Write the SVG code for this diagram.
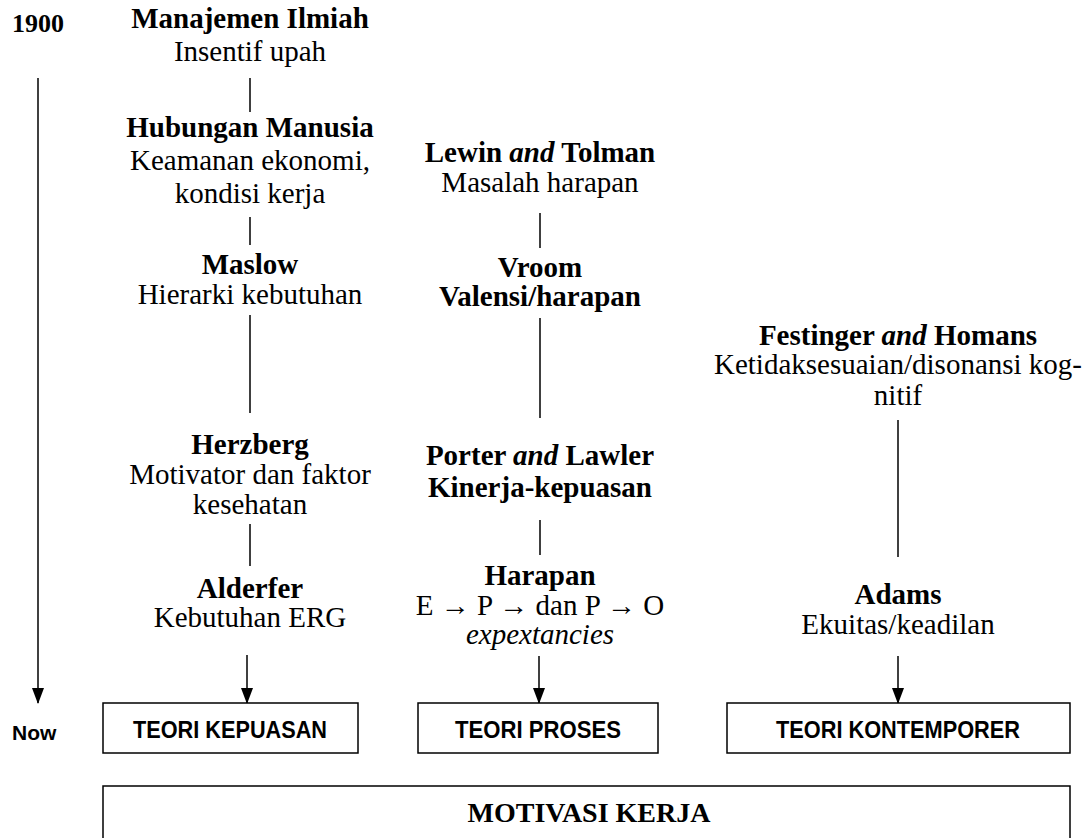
<svg xmlns="http://www.w3.org/2000/svg" width="1086" height="838" viewBox="0 0 1086 838">
  <style>
    text { font-family: "Liberation Serif", "Times New Roman", serif; font-size: 29px; fill: #000; text-anchor: middle; }
    .b { font-weight: bold; }
    .i { font-style: italic; }
    .sans { font-family: "Liberation Sans", Arial, sans-serif; font-weight: bold; font-size: 24px; }
    .yr { font-size: 26px; font-weight: bold; text-anchor: start; }
    .box { fill: #fff; stroke: #000; stroke-width: 1.5; }
    .ln { stroke: #000; stroke-width: 1.5; fill: none; }
  </style>
  <defs>
    <!-- filled arrowhead pointing along the line direction -->
    <marker id="arrow" markerWidth="16" markerHeight="12" refX="15" refY="6" orient="auto" markerUnits="userSpaceOnUse" viewBox="0 0 16 12">
      <path d="M0,0 L16,6 L0,12 Z" fill="#000"/>
    </marker>
  </defs>
  <rect width="1086" height="838" fill="#fff"/>

  <!-- time axis labels -->
  <g id="timeline">
    <text class="yr" x="12" y="32">1900</text>
    <text class="sans" x="12" y="740" style="text-anchor:start;font-size:21px">Now</text>
  </g>

  <!-- connectors -->
  <g id="connectors">
    <line class="ln" x1="38" y1="78" x2="38" y2="703" marker-end="url(#arrow)"/>
    <!-- column 1 -->
    <line class="ln" x1="250" y1="78" x2="250" y2="112"/>
    <line class="ln" x1="250" y1="217" x2="250" y2="245"/>
    <line class="ln" x1="250" y1="315" x2="250" y2="413"/>
    <line class="ln" x1="250" y1="524" x2="250" y2="566"/>
    <line class="ln" x1="247" y1="655" x2="247" y2="703" marker-end="url(#arrow)"/>
    <!-- column 2 -->
    <line class="ln" x1="540" y1="213" x2="540" y2="248"/>
    <line class="ln" x1="540" y1="318" x2="540" y2="418"/>
    <line class="ln" x1="540" y1="520" x2="540" y2="555"/>
    <line class="ln" x1="539" y1="656" x2="539" y2="703" marker-end="url(#arrow)"/>
    <!-- column 3 -->
    <line class="ln" x1="898" y1="420" x2="898" y2="557"/>
    <line class="ln" x1="898" y1="656" x2="898" y2="703" marker-end="url(#arrow)"/>
  </g>

  <!-- column 1: satisfaction theories -->
  <g id="manajemen-ilmiah">
    <text class="b" x="250" y="28">Manajemen Ilmiah</text>
    <text x="250" y="61">Insentif upah</text>
  </g>
  <g id="hubungan-manusia">
    <text class="b" x="250" y="137">Hubungan Manusia</text>
    <text x="250" y="170">Keamanan ekonomi,</text>
    <text x="250" y="203">kondisi kerja</text>
  </g>
  <g id="maslow">
    <text class="b" x="250" y="274">Maslow</text>
    <text x="250" y="304">Hierarki kebutuhan</text>
  </g>
  <g id="herzberg">
    <text class="b" x="250" y="454">Herzberg</text>
    <text x="250" y="484">Motivator dan faktor</text>
    <text x="250" y="514">kesehatan</text>
  </g>
  <g id="alderfer">
    <text class="b" x="250" y="598">Alderfer</text>
    <text x="250" y="627">Kebutuhan ERG</text>
  </g>

  <!-- column 2: process theories -->
  <g id="lewin-tolman">
    <text class="b" x="540" y="162">Lewin <tspan class="i">and</tspan> Tolman</text>
    <text x="540" y="192">Masalah harapan</text>
  </g>
  <g id="vroom">
    <text class="b" x="540" y="277">Vroom</text>
    <text class="b" x="540" y="306">Valensi/harapan</text>
  </g>
  <g id="porter-lawler">
    <text class="b" x="540" y="465">Porter <tspan class="i">and</tspan> Lawler</text>
    <text class="b" x="540" y="497">Kinerja-kepuasan</text>
  </g>
  <g id="harapan">
    <text class="b" x="540" y="585">Harapan</text>
    <text x="540" y="615">E <tspan class="b">→</tspan> P <tspan class="b">→</tspan> dan P <tspan class="b">→</tspan> O</text>
    <text class="i" x="540" y="644">expextancies</text>
  </g>

  <!-- column 3: contemporary theories -->
  <g id="festinger-homans">
    <text class="b" x="898" y="345">Festinger <tspan class="i">and</tspan> Homans</text>
    <text x="898" y="374">Ketidaksesuaian/disonansi kog-</text>
    <text x="898" y="405">nitif</text>
  </g>
  <g id="adams">
    <text class="b" x="898" y="604">Adams</text>
    <text x="898" y="634">Ekuitas/keadilan</text>
  </g>

  <!-- theory boxes -->
  <g id="teori-kepuasan">
    <rect class="box" x="103" y="703" width="255" height="50"/>
    <text class="sans" x="230" y="738" textLength="194" lengthAdjust="spacingAndGlyphs">TEORI KEPUASAN</text>
  </g>
  <g id="teori-proses">
    <rect class="box" x="418" y="703" width="240" height="50"/>
    <text class="sans" x="538" y="738" textLength="166" lengthAdjust="spacingAndGlyphs">TEORI PROSES</text>
  </g>
  <g id="teori-kontemporer">
    <rect class="box" x="727" y="703" width="343" height="50"/>
    <text class="sans" x="898" y="738" textLength="244" lengthAdjust="spacingAndGlyphs">TEORI KONTEMPORER</text>
  </g>
  <g id="motivasi-kerja">
    <rect class="box" x="103" y="786" width="967" height="70"/>
    <text class="b" x="589" y="822" style="font-size:28px">MOTIVASI KERJA</text>
  </g>
</svg>
